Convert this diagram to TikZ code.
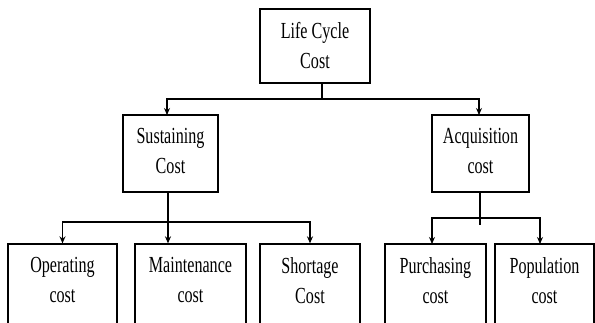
\documentclass[tikz,border=0pt]{standalone}
\usepackage{fontspec}
\setmainfont{Liberation Serif}[FakeStretch=0.7]
\usetikzlibrary{arrows.meta,positioning}
\tikzset{
    every node/.style={font=\fontsize{23}{30}\selectfont, align=center}
}
\tikzset{
    box/.style={draw, rectangle, line width=1.3pt, inner sep=0pt,
    	minimum height=77pt},
    lbl/.style={inner sep=0pt}
}
\tikzset{
    link/.style={line width=1.4pt},
    arr/.style={link, -{Stealth[length=7pt,width=6pt]}}
}

\begin{document}
\begin{tikzpicture}[x=1pt,y=-1pt]
  \useasboundingbox (0,0) rectangle (595,322);
  \clip (0,0) rectangle (595,322);

  \node (lcc) [box, minimum width=110pt, minimum height=74pt] at (315,46) {};
  \node (sus) [box, minimum width=95pt] at (170.5,153.5) {};
  \node (acq) [box, minimum width=97pt] at (480.5,153.5) {};

  \node (ope) [box, minimum width=109pt, minimum height=100pt] at (62.5,294) {};
  \node (mai) [box, minimum width=111pt, minimum height=100pt] at (190.5,294) {};
  \node (sho) [box, minimum width=100pt, minimum height=100pt] at (310,294) {};
  \node (pur) [box, minimum width=101pt, minimum height=100pt] at (435.5,294) {};
  \node (pop) [box, minimum width=99pt, minimum height=100pt] at (544.5,294) {};

  \node [lbl, below=14pt of lcc.north] {Life Cycle\\Cost};
  \node [lbl, below=14pt of sus.north] {Sustaining\\Cost};
  \node [lbl, below=14pt of acq.north] {Acquisition\\cost};
  \node [lbl, below=14pt of ope.north] {Operating\\cost};
  \node [lbl, below=14pt of mai.north] {Maintenance\\cost};
  \node [lbl, below=14pt of sho.north] {Shortage\\Cost};
  \node [lbl, below=14pt of pur.north] {Purchasing\\cost};
  \node [lbl, below=14pt of pop.north] {Population\\cost};

  % junctions
  \coordinate (j0) at (322,99);
  \coordinate (j1) at (168,222);
  \coordinate (j2) at (480,218);
  \coordinate (j2e) at (480,225);

  \draw [link] (lcc.south -| j0) -- (j0);
  \draw [arr] (j0) -| (167,115);
  \draw [arr] (j0) -| (479,115);

  \draw [arr] (sus.south -| j1) -- (mai.north -| j1);
  \draw [arr] (j1) -| (ope.north);
  \draw [arr] (j1) -| (sho.north);

  \draw [link] (acq.south -| j2) -- (j2e);
  \draw [arr] (j2) -| (432,244);
  \draw [arr] (j2) -| (540,244);
\end{tikzpicture}
\end{document}
